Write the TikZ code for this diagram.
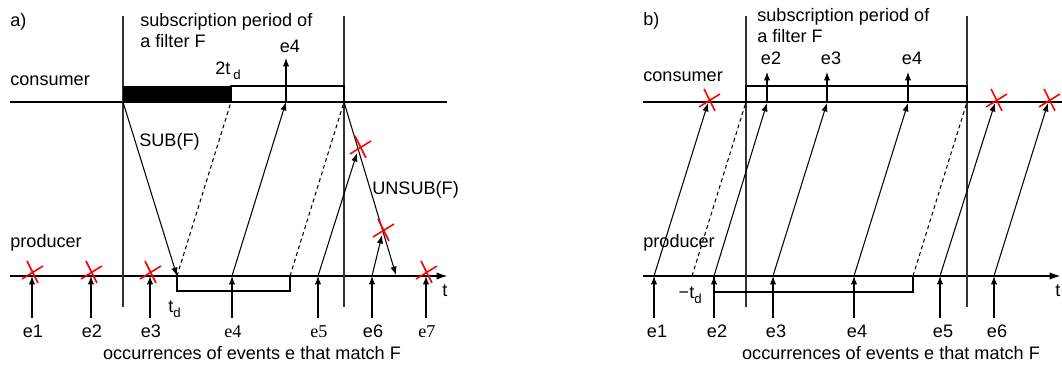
\documentclass[tikz,border=0pt]{standalone}
\usepackage{fontspec}
\setmainfont{Liberation Sans}
\newfontfamily\evserif{Liberation Serif}
\usetikzlibrary{arrows.meta,calc}

\newcommand\tdsub[1]{\raisebox{-0.5ex}{\fontsize{7.5}{8}\selectfont #1}}

\begin{document}
\begin{tikzpicture}[x=0.02cm, y=-0.02cm,
  font=\fontsize{10.3}{12}\selectfont,
  timeline/.style={line width=1.1pt},
  periodline/.style={line width=0.6pt, draw=black!80},
  plain/.style={line width=0.6pt},
  msg/.style={line width=0.6pt, -{Latex[length=4.8pt,width=3.6pt]}},
  ghost/.style={line width=0.6pt, dash pattern=on 2.2pt off 1.8pt},
  txt/.style={inner sep=0pt, anchor=base west},
  evlabel/.style={inner sep=0pt, anchor=base},
  evserif/.style={evlabel, font=\fontsize{10.3}{12}\selectfont\evserif},
  lostmark/.pic={\draw[red, line width=0.9pt] (-5,-12) -- (6,10) (-10,6) -- (11,-7);}
]
\useasboundingbox (0,0) rectangle (1062,367);

%% a) subscription at the producer side
\coordinate (a-cl) at (10,102);  \coordinate (a-cr) at (447,102);
\coordinate (a-pl) at (10,276);  \coordinate (a-pr) at (448,276);
\draw[timeline] (a-cl) -- (a-cr);
\draw[timeline, -{Latex[length=6.5pt,width=4.2pt]}] (a-pl) -- (a-pr);

\foreach \n/\x in {sub/123, unsub/344} {
  \coordinate (a-\n-top) at (\x,16);
  \coordinate (a-\n-bot) at (\x,307);
  \draw[periodline] (a-\n-top) -- (a-\n-bot);
}

\coordinate (a-on) at (123,102);
\coordinate (a-ready) at (231,102);
\coordinate (a-off) at (344,102);
\fill (a-on) rectangle ($(a-ready)+(0,-16)$);
\draw[plain] (a-ready) rectangle ($(a-off)+(0,-16)$);

\foreach \n/\x/\s in {1/32/evlabel, 2/91/evlabel, 3/150/evlabel, 4/232/evserif,
                      5/318/evserif, 6/372/evlabel, 7/426/evserif} {
  \coordinate (a-e\n) at (\x,276);
  \coordinate (a-e\n-src) at (\x,318);
  \draw[msg] (a-e\n-src) -- (a-e\n);
  \node[\s] (a-e\n-lbl) at (\x+1,338) {e\n};
}

% messages between consumer and producer
\coordinate (a-subarr) at (177,276);
\coordinate (a-shift) at (290,276);
\coordinate (a-e4-rcv) at (286,102);
\coordinate (a-e4-out) at (286,58);
\coordinate (a-e5-lost) at (357,153);
\coordinate (a-unsubarr) at (396,275);
\coordinate (a-e6-lost) at (382,235);

\draw[msg] (a-on) -- (a-subarr);
\draw[ghost] (a-subarr) -- (a-ready);
\draw[msg] (a-e4) -- (a-e4-rcv);
\draw[msg] (a-e4-rcv) -- (a-e4-out);
\draw[ghost] (a-shift) -- (a-off);
\draw[msg] (a-e5) -- (a-e5-lost);
\draw[msg] (a-off) -- (a-unsubarr);
\draw[msg] (a-e6) -- (a-e6-lost);
\draw[plain] (a-subarr) -- ++(0,15) -| (a-shift);

\foreach \n in {1,2,3,7} \pic at ($(a-e\n)+(0,-3)$) {lostmark};
\pic at (360,148) {lostmark};
\pic at (383,231) {lostmark};

\node[txt] (a-tag) at (10,27) {a)};
\node[txt] (a-period1) at (140,27) {subscription period of};
\node[txt] (a-period2) at (140,48) {a filter F};
\node[txt] (a-cons) at (10,86) {consumer};
\node[txt] (a-prod) at (10,248) {producer};
\node[evlabel] (a-e4-top) at (290,53) {e4};
\node[txt] (a-twotd) at (215,75) {2t\,\tdsub{d}};
\node[txt] (a-sublbl) at (139,147) {SUB(F)};
\node[txt] (a-unsublbl) at (372,195) {UNSUB(F)};
\node[txt] (a-td) at (168,313) {t\tdsub{d}};
\node[txt] (a-t) at (442,297) {t};
\node[evlabel] (a-caption) at (252,360) {occurrences of events e that match F};

%% b) subscription at the consumer side
\coordinate (b-cl) at (643,102);  \coordinate (b-cr) at (1062,102);
\coordinate (b-pl) at (643,276);  \coordinate (b-pr) at (1061,276);
\draw[timeline] (b-cl) -- (b-cr);
\draw[timeline, -{Latex[length=6.5pt,width=4.2pt]}] (b-pl) -- (b-pr);

\foreach \n/\x in {sub/746, unsub/967} {
  \coordinate (b-\n-top) at (\x,16);
  \coordinate (b-\n-bot) at (\x,307);
  \draw[periodline] (b-\n-top) -- (b-\n-bot);
}

\coordinate (b-on) at (746,102);
\coordinate (b-off) at (967,102);
\draw[plain] (b-on) rectangle ($(b-off)+(0,-16)$);

\foreach \n/\x/\r in {1/654/708, 2/714/767, 3/773/827, 4/854/908, 5/940/995, 6/994/1048} {
  \coordinate (b-e\n) at (\x,276);
  \coordinate (b-e\n-src) at (\x,318);
  \coordinate (b-e\n-rcv) at (\r,103);
  \draw[msg] (b-e\n-src) -- (b-e\n);
  \draw[msg] (b-e\n) -- (b-e\n-rcv);
  \node[evlabel] (b-e\n-lbl) at (\x+3,338) {e\n};
}
\foreach \n in {2,3,4} {
  \coordinate (b-e\n-out) at ($(b-e\n-rcv)+(0,-31)$);
  \draw[msg] (b-e\n-rcv) -- (b-e\n-out);
  \node[evlabel] (b-e\n-top) at ($(b-e\n-rcv)+(4,-38)$) {e\n};
}
\foreach \n in {1,5,6} \pic at ($(b-e\n-rcv)+(1,-2)$) {lostmark};

\coordinate (b-early) at (692,276);
\coordinate (b-late) at (913,276);
\draw[ghost] (b-early) -- (b-on);
\draw[ghost] (b-late) -- (b-off);
\draw[plain] (b-e2) -- ++(0,16) -| (b-late);

\node[txt] (b-tag) at (643,26) {b)};
\node[txt] (b-period1) at (757,22) {subscription period of};
\node[txt] (b-period2) at (757,43) {a filter F};
\node[txt] (b-cons) at (643,82) {consumer};
\node[txt] (b-prod) at (643,248) {producer};
\node[inner sep=0pt, anchor=base east] (b-td) at (702,299) {−t\tdsub{d}};
\node[txt] (b-t) at (1055,297) {t};
\node[evlabel] (b-caption) at (891,360) {occurrences of events e that match F};
\end{tikzpicture}
\end{document}
